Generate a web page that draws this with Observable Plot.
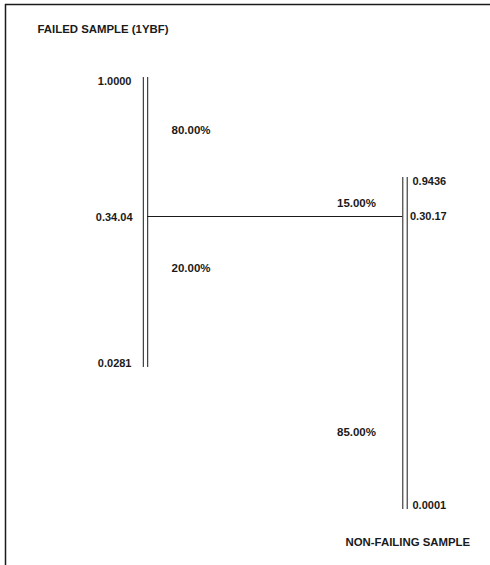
<!DOCTYPE html>
<html>
<head>
<meta charset="utf-8">
<script src="https://cdn.jsdelivr.net/npm/d3@7"></script>
<script src="https://cdn.jsdelivr.net/npm/@observablehq/plot@0.6"></script>
<style>
  html, body { margin: 0; padding: 0; background: #fff; }
  #chart svg { display: block; }
</style>
</head>
<body>
<div id="chart"></div>
<script>
// ---- data ----
const samples = ["FAILED SAMPLE (1YBF)", "NON-FAILING SAMPLE"];
const topValues = ["1.0000", "0.9436"];
const cutoffValues = ["0.34.04", "0.30.17"];
const bottomValues = ["0.0281", "0.0001"];
const upperShares = ["80.00%", "15.00%"];
const lowerShares = ["20.00%", "85.00%"];

// ---- schematic layout (diagram units, not data) ----
const colX = [145, 404.5];
const topY = [77, 177];
const cutY = 216;
const bottomY = [367, 509];
const upperShareY = [130, 203];
const lowerShareY = [268, 432];
const titleXY = [[37, 29], [345, 542]];

const nodes = samples.map((s, i) => ({
  sample: s, x: colX[i], top: topY[i], bottom: bottomY[i],
  topLabel: topValues[i], cutLabel: cutoffValues[i], bottomLabel: bottomValues[i],
  upper: upperShares[i], lower: lowerShares[i],
  upperY: upperShareY[i], lowerY: lowerShareY[i],
  tx: titleXY[i][0], ty: titleXY[i][1]
}));

const font = "'Liberation Sans', Arial, Helvetica, sans-serif";
const ink = "#1a1a1a";
const left = nodes[0], right = nodes[1];

const chart = Plot.plot({
  width: 490,
  height: 565,
  margin: 0,
  style: { fontFamily: font, background: "#fff" },
  x: { type: "linear", domain: [0, 490], range: [0, 490], axis: null },
  y: { type: "linear", domain: [0, 565], range: [0, 565], axis: null },
  marks: [
    // border (top and left)
    Plot.ruleY([4], { x1: 5, x2: 490, stroke: ink, strokeWidth: 1.5 }),
    Plot.ruleX([5], { y1: 4, y2: 565, stroke: ink, strokeWidth: 1.5 }),
    // double vertical lines for each sample
    Plot.ruleX(nodes, { x: "x", y1: "top", y2: "bottom", dx: -2.2, stroke: ink, strokeWidth: 1 }),
    Plot.ruleX(nodes, { x: "x", y1: "top", y2: "bottom", dx: 2.2, stroke: ink, strokeWidth: 1 }),
    // cutoff connector
    Plot.ruleY([cutY], { x1: left.x + 2.2, x2: right.x - 2.2, stroke: ink, strokeWidth: 1 }),
    // value labels, left column (right aligned)
    Plot.text([left], { x: "x", y: "top", text: "topLabel", dx: -14, dy: 4, textAnchor: "end", fontSize: 11, fontWeight: "bold", fill: ink }),
    Plot.text([left], { x: "x", y: () => cutY, text: "cutLabel", dx: -13, dy: 1, textAnchor: "end", fontSize: 11, fontWeight: "bold", fill: ink }),
    Plot.text([left], { x: "x", y: "bottom", text: "bottomLabel", dx: -14, dy: -4, textAnchor: "end", fontSize: 11, fontWeight: "bold", fill: ink }),
    // value labels, right column (left aligned)
    Plot.text([right], { x: "x", y: "top", text: "topLabel", dx: 7.5, dy: 4, textAnchor: "start", fontSize: 11, fontWeight: "bold", fill: ink }),
    Plot.text([right], { x: "x", y: () => cutY, text: "cutLabel", dx: 5, dy: 0, textAnchor: "start", fontSize: 11, fontWeight: "bold", fill: ink }),
    Plot.text([right], { x: "x", y: "bottom", text: "bottomLabel", dx: 7.5, dy: -4, textAnchor: "start", fontSize: 11, fontWeight: "bold", fill: ink }),
    // share labels
    Plot.text([left], { x: "x", y: "upperY", text: "upper", dx: 26, textAnchor: "start", fontSize: 11.5, fontWeight: "bold", fill: ink }),
    Plot.text([left], { x: "x", y: "lowerY", text: "lower", dx: 26, textAnchor: "start", fontSize: 11.5, fontWeight: "bold", fill: ink }),
    Plot.text([right], { x: "x", y: "upperY", text: "upper", dx: -29, textAnchor: "end", fontSize: 11.5, fontWeight: "bold", fill: ink }),
    Plot.text([right], { x: "x", y: "lowerY", text: "lower", dx: -29, textAnchor: "end", fontSize: 11.5, fontWeight: "bold", fill: ink }),
    // sample titles
    Plot.text(nodes, { x: "tx", y: "ty", text: "sample", textAnchor: "start", fontSize: 11.4, fontWeight: "bold", fill: ink })
  ]
});
document.getElementById("chart").append(chart);
</script>
</body>
</html>
